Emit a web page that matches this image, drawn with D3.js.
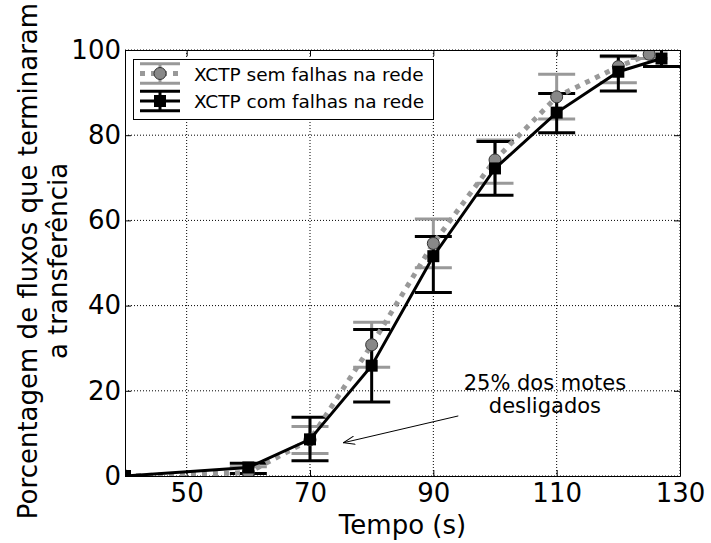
<!DOCTYPE html>
<html>
<head>
<meta charset="utf-8">
<script src="https://cdn.jsdelivr.net/npm/d3@7"></script>
<style>
  html, body { margin: 0; padding: 0; background: #fff; }
  svg { display: block; font-family: "DejaVu Sans", sans-serif; }
</style>
</head>
<body>
<svg id="chart" width="711" height="543"></svg>
<script>
// Tempo (s) em que foram medidas as porcentagens
const tempoSem = [40, 60, 70, 80, 90, 100, 110, 120, 125];
const tempoCom = [40, 60, 70, 80, 90, 100, 110, 120, 127];

// XCTP sem falhas na rede: média e limites das barras de erro
const semMedia = [0, 0.8, 8.5, 30.8, 54.6, 74.2, 89.0, 96.1, 99.0];
const semInf   = [0, -0.6, 5.3, 25.5, 48.9, 68.7, 83.8, 92.3, 98.0];
const semSup   = [0, 2.2, 11.6, 36.1, 60.3, 78.9, 94.3, 98.4, 100.0];

// XCTP com falhas na rede: média e limites das barras de erro
const comMedia = [0, 2.0, 8.6, 25.9, 51.6, 72.2, 85.3, 94.9, 98.0];
const comInf   = [0, 0.6, 3.6, 17.4, 43.1, 65.9, 80.6, 90.4, 96.1];
const comSup   = [0, 3.0, 13.8, 34.4, 56.2, 78.5, 89.8, 98.6, 100.3];

const xTicks = [50, 70, 90, 110, 130];
const yTicks = [0, 20, 40, 60, 80, 100];
const legendLabels = ["XCTP sem falhas na rede", "XCTP com falhas na rede"];

const svg = d3.select("#chart");
const W = 711, H = 543;
const plot = { left: 125, right: 680, top: 50, bottom: 476 };

svg.append("rect").attr("width", W).attr("height", H).attr("fill", "#fff");

const x = d3.scaleLinear().domain([40, 130]).range([plot.left, plot.right]);
const y = d3.scaleLinear().domain([0, 100]).range([plot.bottom, plot.top]);

const GRAY = "#999999";
const TICK_FONT = 26;

// Grade pontilhada
const grid = svg.append("g").attr("stroke", "#000").attr("stroke-width", 1)
  .attr("stroke-dasharray", "1,2").attr("fill", "none");
grid.selectAll("line.gx").data(xTicks).join("line").attr("class", "gx")
  .attr("x1", d => x(d)).attr("x2", d => x(d))
  .attr("y1", plot.top).attr("y2", plot.bottom);
grid.selectAll("line.gy").data(yTicks).join("line").attr("class", "gy")
  .attr("x1", plot.left).attr("x2", plot.right)
  .attr("y1", d => y(d)).attr("y2", d => y(d));

// Séries
const serieSem = tempoSem.map((t, i) => ({ t, m: semMedia[i], lo: semInf[i], hi: semSup[i] }));
const serieCom = tempoCom.map((t, i) => ({ t, m: comMedia[i], lo: comInf[i], hi: comSup[i] }));

svg.append("clipPath").attr("id", "area")
  .append("rect").attr("x", plot.left).attr("y", plot.top)
  .attr("width", plot.right - plot.left).attr("height", plot.bottom - plot.top);

const data = svg.append("g").attr("clip-path", "url(#area)");
const CAP = 18.5;

function errorBars(g, serie, color) {
  const b = g.append("g").attr("stroke", color).attr("stroke-width", 3).attr("fill", "none");
  const pts = serie.filter(d => d.hi !== d.lo);
  b.selectAll("line.v").data(pts).join("line").attr("class", "v")
    .attr("x1", d => x(d.t)).attr("x2", d => x(d.t))
    .attr("y1", d => y(d.lo)).attr("y2", d => y(d.hi));
  b.selectAll("line.lo").data(pts).join("line").attr("class", "lo")
    .attr("x1", d => x(d.t) - CAP).attr("x2", d => x(d.t) + CAP)
    .attr("y1", d => y(d.lo)).attr("y2", d => y(d.lo));
  b.selectAll("line.hi").data(pts).join("line").attr("class", "hi")
    .attr("x1", d => x(d.t) - CAP).attr("x2", d => x(d.t) + CAP)
    .attr("y1", d => y(d.hi)).attr("y2", d => y(d.hi));
}

errorBars(data, serieSem, GRAY);
errorBars(data, serieCom, "#000");

const line = d3.line().x(d => x(d.t)).y(d => y(d.m));

data.append("path").datum(serieSem).attr("d", line)
  .attr("fill", "none").attr("stroke", GRAY).attr("stroke-width", 5)
  .attr("stroke-dasharray", "5,6");
data.selectAll("circle.sem").data(serieSem).join("circle").attr("class", "sem")
  .attr("cx", d => x(d.t)).attr("cy", d => y(d.m)).attr("r", 6)
  .attr("fill", "#888").attr("stroke", "#333").attr("stroke-width", 1);

data.append("path").datum(serieCom).attr("d", line)
  .attr("fill", "none").attr("stroke", "#000").attr("stroke-width", 3);
data.selectAll("rect.com").data(serieCom).join("rect").attr("class", "com")
  .attr("x", d => x(d.t) - 6).attr("y", d => y(d.m) - 6)
  .attr("width", 12).attr("height", 12).attr("fill", "#000");

// Eixos com marcas para dentro
const axL = svg.append("g").attr("transform", `translate(${plot.left},0)`)
  .call(d3.axisLeft(y).tickValues(yTicks).tickSizeInner(-6).tickSizeOuter(0).tickPadding(4));
const axB = svg.append("g").attr("transform", `translate(0,${plot.bottom})`)
  .call(d3.axisBottom(x).tickValues(xTicks).tickSizeInner(-6).tickSizeOuter(0).tickPadding(8));
const axT = svg.append("g").attr("transform", `translate(0,${plot.top})`)
  .call(d3.axisTop(x).tickValues(xTicks).tickSizeInner(-6).tickSizeOuter(0).tickFormat(""));
const axR = svg.append("g").attr("transform", `translate(${plot.right},0)`)
  .call(d3.axisRight(y).tickValues(yTicks).tickSizeInner(-6).tickSizeOuter(0).tickFormat(""));

[axL, axB, axT, axR].forEach(a => {
  a.selectAll("path.domain").attr("stroke", "#000").attr("stroke-width", 1);
  a.selectAll(".tick line").attr("stroke", "#000").attr("stroke-width", 1);
  a.selectAll(".tick text").attr("font-size", TICK_FONT)
    .attr("font-family", "DejaVu Sans").attr("fill", "#000");
});

// Rótulos dos eixos
svg.append("text").attr("x", (plot.left + plot.right) / 2).attr("y", 534)
  .attr("text-anchor", "middle").attr("font-size", 26).text("Tempo (s)");

const yLab = svg.append("text").attr("text-anchor", "middle").attr("font-size", 26)
  .attr("transform", "translate(0,261) rotate(-90)");
yLab.append("tspan").attr("x", 0).attr("y", 37).text("Porcentagem de fluxos que terminaram");
yLab.append("tspan").attr("x", 0).attr("y", 67).text("a transferência");

// Anotação
const ann = svg.append("text").attr("text-anchor", "middle").attr("font-size", 21);
ann.append("tspan").attr("x", x(108.1)).attr("y", y(20.2)).text("25% dos motes");
ann.append("tspan").attr("x", x(108.1)).attr("y", y(20.2) + 23.5).text("desligados");

svg.append("defs").append("marker").attr("id", "seta")
  .attr("viewBox", "0 0 12 10").attr("refX", 11.5).attr("refY", 5)
  .attr("markerWidth", 12).attr("markerHeight", 10).attr("markerUnits", "userSpaceOnUse")
  .attr("orient", "auto")
  .append("path").attr("d", "M0,0.8 L11.5,5 L0,9.2").attr("fill", "none")
  .attr("stroke", "#000").attr("stroke-width", 1);
svg.append("line")
  .attr("x1", x(94.05)).attr("y1", y(14.1))
  .attr("x2", x(75.4)).attr("y2", y(7.8))
  .attr("stroke", "#000").attr("stroke-width", 1).attr("marker-end", "url(#seta)");

// Legenda
const leg = svg.append("g");
leg.append("rect").attr("x", 133.5).attr("y", 59.5).attr("width", 300).attr("height", 60)
  .attr("fill", "#fff").attr("stroke", "#000").attr("stroke-width", 1);

const rows = [
  { cy: 73.5, color: GRAY, dashed: true, cap: 9.7 },
  { cy: 101, color: "#000", dashed: false, cap: 9.7 }
];
rows.forEach((r, i) => {
  const g = leg.append("g");
  g.append("line").attr("x1", 160).attr("x2", 160).attr("y1", r.cy - r.cap).attr("y2", r.cy + r.cap)
    .attr("stroke", r.color).attr("stroke-width", 3);
  [-r.cap, r.cap].forEach(o => g.append("line").attr("x1", 140).attr("x2", 180)
    .attr("y1", r.cy + o).attr("y2", r.cy + o).attr("stroke", r.color).attr("stroke-width", 3));
  g.append("line").attr("x1", 140).attr("x2", 180).attr("y1", r.cy).attr("y2", r.cy)
    .attr("stroke", r.color).attr("stroke-width", r.dashed ? 5 : 3)
    .attr("stroke-dasharray", r.dashed ? "5,6" : null);
  if (r.dashed) {
    g.append("circle").attr("cx", 160).attr("cy", r.cy).attr("r", 6)
      .attr("fill", "#888").attr("stroke", "#333").attr("stroke-width", 1);
  } else {
    g.append("rect").attr("x", 154).attr("y", r.cy - 6).attr("width", 12).attr("height", 12)
      .attr("fill", "#000");
  }
  leg.append("text").attr("x", 194).attr("y", r.cy + 7).attr("font-size", 18.5)
    .text(legendLabels[i]);
});
</script>
</body>
</html>
